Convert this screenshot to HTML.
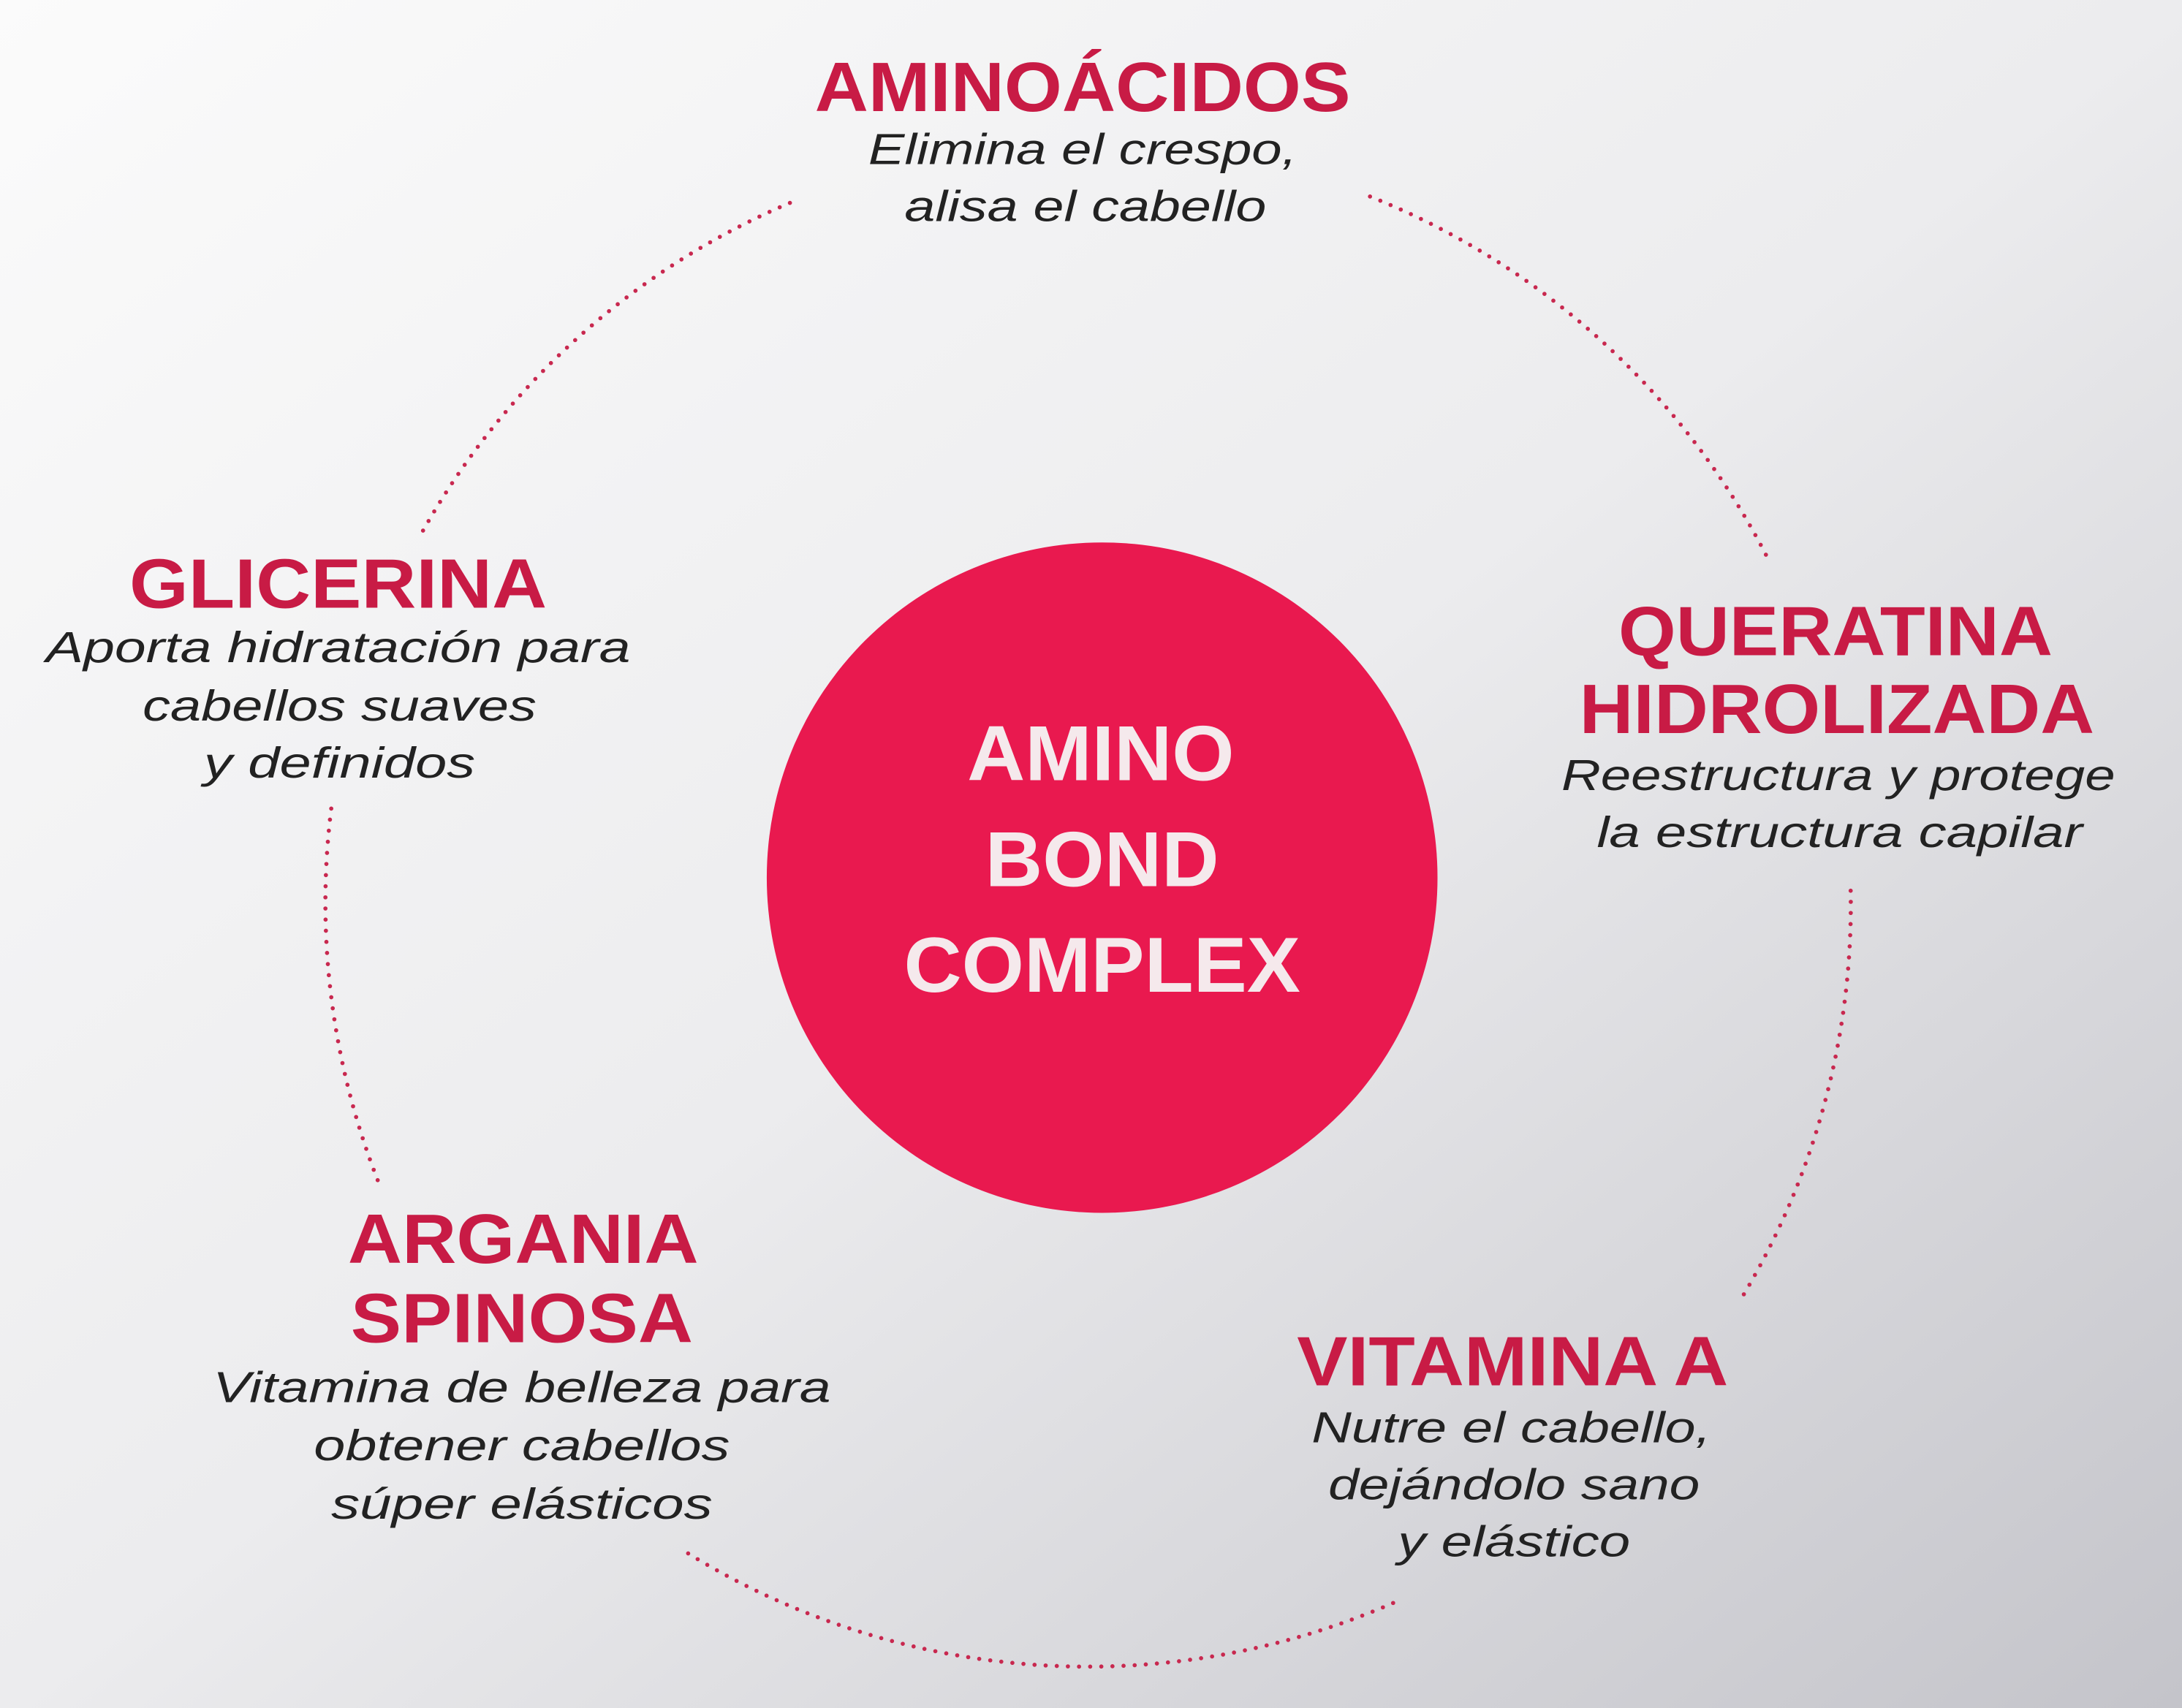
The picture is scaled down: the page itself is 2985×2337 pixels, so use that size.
<!DOCTYPE html>
<html><head><meta charset="utf-8"><style>
html,body{margin:0;padding:0;width:2985px;height:2337px;overflow:hidden}
svg{display:block}
.h{font-family:"Liberation Sans",sans-serif;font-weight:bold;fill:#c81b45;font-size:50px}
.i{font-family:"Liberation Sans",sans-serif;font-style:italic;fill:#222;font-size:31px}
.c{font-family:"Liberation Sans",sans-serif;font-weight:bold;fill:#f5e9ec;font-size:56px}
</style></head><body>
<svg width="2985" height="2337" viewBox="0 0 1568 1228" preserveAspectRatio="none">
<defs>
<linearGradient id="bg" x1="0" y1="0" x2="1" y2="1">
<stop offset="0" stop-color="#fbfbfb"/><stop offset="0.5" stop-color="#ececee"/><stop offset="1" stop-color="#c4c4ca"/>
</linearGradient>
</defs>
<rect width="1568" height="1228" fill="url(#bg)"/>
<g fill="none" stroke="#c8284f" stroke-width="3" stroke-linecap="round" stroke-dasharray="0 8" id="arcs"></g>
<circle cx="792" cy="631" r="241" fill="#e9194f"/>
<g text-anchor="middle">
<text class="h" x="778" y="80" textLength="385" lengthAdjust="spacingAndGlyphs">AMINOÁCIDOS</text>
<text class="i" x="778" y="118" textLength="308" lengthAdjust="spacingAndGlyphs">Elimina el crespo,</text>
<text class="i" x="780" y="159" textLength="260" lengthAdjust="spacingAndGlyphs">alisa el cabello</text>
<text class="h" x="243" y="437" textLength="300" lengthAdjust="spacingAndGlyphs">GLICERINA</text>
<text class="i" x="243" y="476" textLength="420" lengthAdjust="spacingAndGlyphs">Aporta hidratación para</text>
<text class="i" x="244" y="518" textLength="283" lengthAdjust="spacingAndGlyphs">cabellos suaves</text>
<text class="i" x="244" y="559" textLength="195" lengthAdjust="spacingAndGlyphs">y definidos</text>
<text class="h" x="1319" y="471" textLength="312" lengthAdjust="spacingAndGlyphs">QUERATINA</text>
<text class="h" x="1320" y="527" textLength="370" lengthAdjust="spacingAndGlyphs">HIDROLIZADA</text>
<text class="i" x="1321" y="568" textLength="398" lengthAdjust="spacingAndGlyphs">Reestructura y protege</text>
<text class="i" x="1322" y="609" textLength="349" lengthAdjust="spacingAndGlyphs">la estructura capilar</text>
<text class="h" x="376" y="908" textLength="252" lengthAdjust="spacingAndGlyphs">ARGANIA</text>
<text class="h" x="375" y="965" textLength="246" lengthAdjust="spacingAndGlyphs">SPINOSA</text>
<text class="i" x="375" y="1008" textLength="444" lengthAdjust="spacingAndGlyphs">Vitamina de belleza para</text>
<text class="i" x="375" y="1050" textLength="299" lengthAdjust="spacingAndGlyphs">obtener cabellos</text>
<text class="i" x="375" y="1092" textLength="274" lengthAdjust="spacingAndGlyphs">súper elásticos</text>
<text class="h" x="1087" y="996" textLength="310" lengthAdjust="spacingAndGlyphs">VITAMINA A</text>
<text class="i" x="1086" y="1037" textLength="287" lengthAdjust="spacingAndGlyphs">Nutre el cabello,</text>
<text class="i" x="1088" y="1078" textLength="267" lengthAdjust="spacingAndGlyphs">dejándolo sano</text>
<text class="i" x="1088" y="1119" textLength="167" lengthAdjust="spacingAndGlyphs">y elástico</text>
<text class="c" x="791" y="561" textLength="192" lengthAdjust="spacingAndGlyphs">AMINO</text>
<text class="c" x="792" y="637" textLength="168" lengthAdjust="spacingAndGlyphs">BOND</text>
<text class="c" x="792" y="713" textLength="285" lengthAdjust="spacingAndGlyphs">COMPLEX</text>
</g>
<g fill="none" stroke="#c8284f" stroke-width="3" stroke-linecap="round" stroke-dasharray="0 8">
<path d="M 984.5 141.3 A 548 548 0 0 1 1272.4 405.5"/>
<path d="M 1329.9 640.4 A 548 548 0 0 1 1252.1 932.3"/>
<path d="M 1001.1 1152.5 A 548 548 0 0 1 491.0 1114.7"/>
<path d="M 271.4 848.5 A 548 548 0 0 1 238.4 578.5"/>
<path d="M 304.0 381.5 A 548 548 0 0 1 571.6 144.2"/>
</g>
</svg>
</body></html>
